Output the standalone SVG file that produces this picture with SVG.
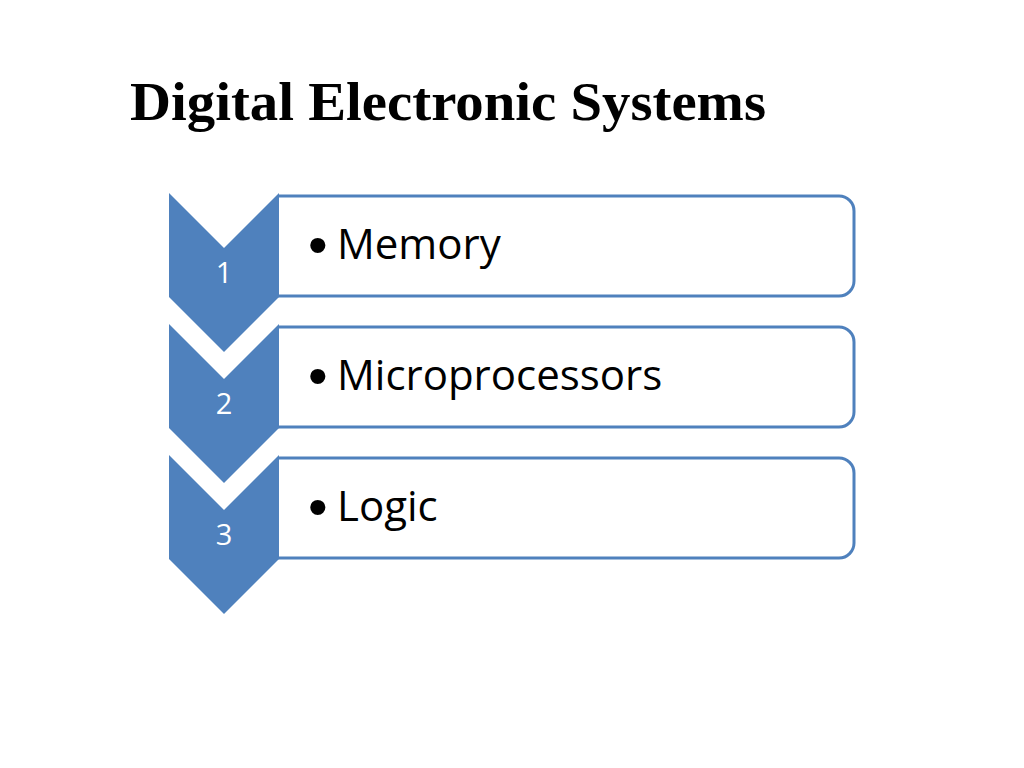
<svg xmlns="http://www.w3.org/2000/svg" width="1024" height="768" viewBox="0 0 1024 768">
<style>
.chev{fill:#4f81bd}
.box{fill:#fff;stroke:#4f81bd;stroke-width:3}
.num{font-family:"Open Sans","Liberation Sans",sans-serif;font-size:29px;fill:#fff;text-anchor:middle}
.item{font-family:"Open Sans","Liberation Sans",sans-serif;font-size:42px;fill:#000}
.bul{font-family:"Liberation Sans",sans-serif;font-size:56px;fill:#000}
.title{font-family:"Liberation Serif","Times New Roman",serif;font-size:55px;font-weight:bold;fill:#000}
</style>
<rect width="1024" height="768" fill="#fff"/>
<text class="title" x="130" y="120" textLength="636" lengthAdjust="spacingAndGlyphs">Digital Electronic Systems</text>
<g id="step1">
<path class="box" d="M278,196 H839 A15,15 0 0 1 854,211 V281 A15,15 0 0 1 839,296 H278"/>
<path class="chev" d="M169,193 L224,248 L279,193 V297 L224,352 L169,297 Z"/>
<text class="num" x="224" y="283">1</text>
<text class="bul" x="308" y="264">•</text>
<text class="item" x="337" y="259">Memory</text>
</g>
<g id="step2">
<path class="box" d="M278,327 H839 A15,15 0 0 1 854,342 V412 A15,15 0 0 1 839,427 H278"/>
<path class="chev" d="M169,324 L224,379 L279,324 V428 L224,483 L169,428 Z"/>
<text class="num" x="224" y="414">2</text>
<text class="bul" x="308" y="395">•</text>
<text class="item" x="337" y="390">Microprocessors</text>
</g>
<g id="step3">
<path class="box" d="M278,458 H839 A15,15 0 0 1 854,473 V543 A15,15 0 0 1 839,558 H278"/>
<path class="chev" d="M169,455 L224,510 L279,455 V559 L224,614 L169,559 Z"/>
<text class="num" x="224" y="545">3</text>
<text class="bul" x="308" y="526">•</text>
<text class="item" x="337" y="521">Logic</text>
</g>
<g id="connectors"/>
</svg>
